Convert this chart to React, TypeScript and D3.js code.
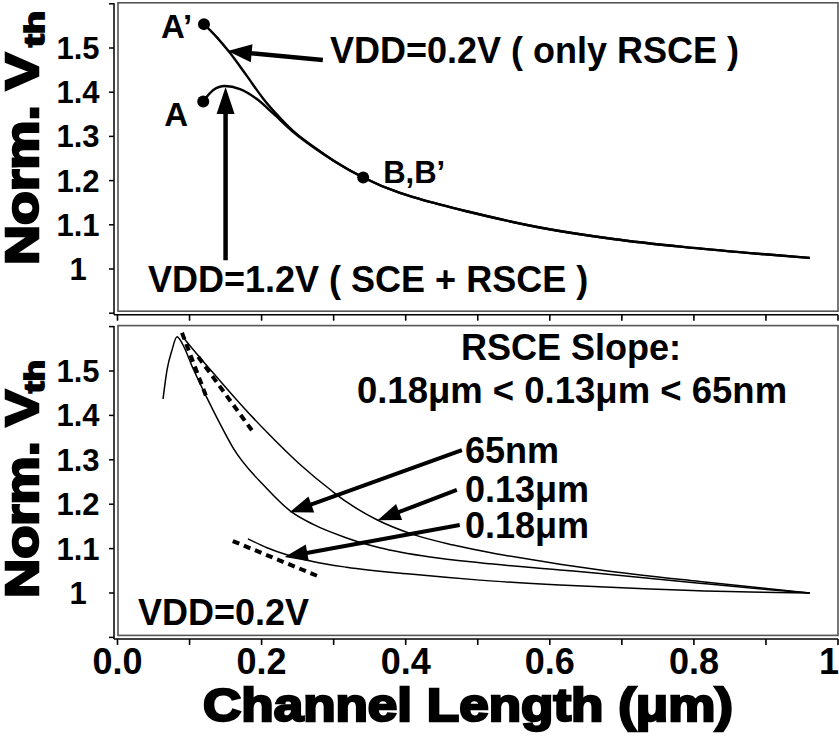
import React from "react";
import * as d3 from "d3";

// Channel length (µm) and normalized Vth for the two supply conditions
const vdd02X = [0.12, 0.138, 0.156, 0.179, 0.202, 0.221, 0.244, 0.276, 0.3, 0.341, 0.392, 0.42, 0.486, 0.586, 0.688, 0.785, 0.878, 0.961];
const vdd02Y = [1.554, 1.524, 1.489, 1.438, 1.386, 1.35, 1.312, 1.272, 1.245, 1.207, 1.172, 1.158, 1.13, 1.094, 1.068, 1.05, 1.036, 1.025];
const vdd12X = [0.119, 0.133, 0.149, 0.17, 0.193, 0.216, 0.244, 0.276, 0.3, 0.341, 0.392, 0.42, 0.486, 0.586, 0.688, 0.785, 0.878, 0.961];
const vdd12Y = [1.379, 1.405, 1.414, 1.407, 1.385, 1.352, 1.31, 1.271, 1.245, 1.207, 1.172, 1.158, 1.13, 1.094, 1.068, 1.05, 1.036, 1.025];

// Marked points: A', A, B/B'
const markNames = ["A\u2019", "A", "B,B\u2019"];
const markX = [0.12, 0.119, 0.341];
const markY = [1.554, 1.379, 1.207];

// Technology nodes at VDD=0.2V
const n65X = [0.0632, 0.0687, 0.0756, 0.0826, 0.0895, 0.105, 0.124, 0.142, 0.16, 0.2075, 0.242, 0.271, 0.318, 0.364, 0.434, 0.503, 0.614, 0.67, 0.808, 0.901, 0.961];
const n65Y = [1.437, 1.502, 1.547, 1.577, 1.563, 1.505, 1.44, 1.382, 1.328, 1.235, 1.182, 1.155, 1.124, 1.102, 1.081, 1.068, 1.052, 1.044, 1.022, 1.008, 1.0];
const n130X = [0.09, 0.1145, 0.138, 0.16, 0.188, 0.2075, 0.253, 0.299, 0.318, 0.36, 0.41, 0.466, 0.527, 0.614, 0.67, 0.808, 0.901, 0.961];
const n130Y = [1.578, 1.53, 1.486, 1.445, 1.395, 1.362, 1.29, 1.228, 1.205, 1.165, 1.132, 1.108, 1.088, 1.065, 1.052, 1.026, 1.01, 1.0];
const n180X = [0.181, 0.2075, 0.235, 0.271, 0.318, 0.41, 0.503, 0.614, 0.739, 0.878, 0.961];
const n180Y = [1.122, 1.102, 1.086, 1.071, 1.058, 1.042, 1.029, 1.018, 1.009, 1.002, 1.0];

// Slope guide segments [x1, y1, x2, y2]
const slope65 = [0.0895, 1.586, 0.124, 1.439];
const slope130 = [0.112, 1.532, 0.188, 1.363];
const slope180 = [0.16, 1.117, 0.281, 1.036];

const xTicks = [0, 0.1, 0.2, 0.3, 0.4, 0.5, 0.6, 0.7, 0.8, 0.9, 1.0];
const xTickLabels = ["0.0", "", "0.2", "", "0.4", "", "0.6", "", "0.8", "", "1"];
const yTicks = [0.9, 1.0, 1.1, 1.2, 1.3, 1.4, 1.5, 1.6];
const yTickLabels = ["", "1", "1.1", "1.2", "1.3", "1.4", "1.5", ""];

const W = 839;
const H = 736;
const FONT = "'Liberation Sans', Arial, sans-serif";

const x = d3.scaleLinear().domain([0, 1]).range([117.5, 838]);
const yTop = d3.scaleLinear().domain([0.9, 1.6]).range([313.2, 3.8]);
const yBot = d3.scaleLinear().domain([0.9, 1.6]).range([637.4, 326.6]);

function zip(xs: number[], ys: number[]): [number, number][] {
  return xs.map((v, i) => [v, ys[i]]);
}

function Arrow({ x1, y1, x2, y2, head = 24, half = 9, width = 4.5 }: { x1: number; y1: number; x2: number; y2: number; head?: number; half?: number; width?: number }) {
  const dx = x2 - x1;
  const dy = y2 - y1;
  const len = Math.hypot(dx, dy);
  const ux = dx / len;
  const uy = dy / len;
  const bx = x2 - ux * head;
  const by = y2 - uy * head;
  const pts = [
    [x2, y2],
    [bx - uy * half, by + ux * half],
    [bx + uy * half, by - ux * half],
  ];
  return (
    <g>
      <line x1={x1} y1={y1} x2={bx + ux * 2} y2={by + uy * 2} stroke="#000" strokeWidth={width} />
      <polygon points={pts.map((p) => p.join(",")).join(" ")} fill="#000" />
    </g>
  );
}

function Panel({ y, top }: { y: d3.ScaleLinear<number, number>; top: boolean }) {
  const [y0, y1] = y.range();
  const axisY = y0 + 1.5;
  return (
    <g>
      <rect x={118} y={y1 - 1} width={720} height={y0 - y1 - 1} fill="#fff" stroke="#555" strokeWidth={1.6} />
      {/* y axis */}
      <line x1={114} x2={114} y1={y1 - 0.5} y2={axisY} stroke="#000" strokeWidth={1.5} />
      {yTicks.map((t, i) => (
        <g key={i}>
          <line x1={109} x2={114} y1={y(t)} y2={y(t)} stroke="#000" strokeWidth={1.5} />
          {yTickLabels[i] && (
            <text x={78} y={y(t) + 11} textAnchor="middle" fontFamily={FONT} fontWeight="bold" fontSize={31}>
              {yTickLabels[i]}
            </text>
          )}
        </g>
      ))}
      {/* x axis */}
      <line x1={114} x2={838} y1={axisY} y2={axisY} stroke="#000" strokeWidth={1.5} />
      {xTicks.map((t, i) => (
        <line key={i} x1={x(t)} x2={x(t)} y1={axisY} y2={axisY + 6} stroke="#000" strokeWidth={1.6} />
      ))}
      {/* y axis title */}
      <text
        transform={`translate(38,${top ? 265 : 598}) rotate(-90)`}
        fontFamily={FONT}
        fontWeight="bold"
        fontSize={47}
        stroke="#000"
        strokeWidth={2.5}
        textLength={top ? 212 : 208}
        lengthAdjust="spacingAndGlyphs"
      >
        Norm. V
      </text>
      <text
        transform={`translate(44,${top ? 47 : 393}) rotate(-90)`}
        fontFamily={FONT}
        fontWeight="bold"
        fontSize={27}
        stroke="#000"
        strokeWidth={1.8}
        textLength={top ? 36 : 33}
        lengthAdjust="spacingAndGlyphs"
      >
        th
      </text>
    </g>
  );
}

export default function App() {
  const lineTop = d3.line<[number, number]>().x((d) => x(d[0])).y((d) => yTop(d[1])).curve(d3.curveMonotoneX);
  const lineBot = d3.line<[number, number]>().x((d) => x(d[0])).y((d) => yBot(d[1])).curve(d3.curveMonotoneX);
  const txt = { fontFamily: FONT, fontWeight: "bold" as const, fontSize: 36 };

  const seg = (s: number[]) => (
    <line x1={x(s[0])} y1={yBot(s[1])} x2={x(s[2])} y2={yBot(s[3])} stroke="#000" strokeWidth={4} strokeDasharray="7 5" />
  );

  return (
    <svg width={W} height={H} style={{ position: "absolute", left: 0, top: 0, background: "#fff" }}>
      <rect width={W} height={H} fill="#fff" />
      <Panel y={yTop} top={true} />
      <Panel y={yBot} top={false} />

      {/* upper panel curves */}
      <path d={lineTop(zip(vdd12X, vdd12Y)) || ""} fill="none" stroke="#000" strokeWidth={2.4} />
      <path d={lineTop(zip(vdd02X, vdd02Y)) || ""} fill="none" stroke="#000" strokeWidth={2.4} />
      {markX.map((v, i) => (
        <circle key={i} cx={x(v)} cy={yTop(markY[i])} r={6} fill="#000" />
      ))}
      <text x={x(markX[0]) - 43} y={yTop(markY[0]) + 14} {...txt} fontSize={33}>{markNames[0]}</text>
      <text x={x(markX[1]) - 39} y={yTop(markY[1]) + 25} {...txt} fontSize={33}>{markNames[1]}</text>
      <text x={x(markX[2]) + 20} y={yTop(markY[2]) + 5} {...txt} fontSize={31}>{markNames[2]}</text>

      <Arrow x1={x(0.285)} y1={yTop(1.473)} x2={x(0.153)} y2={yTop(1.493)} />
      <text x={330} y={63} {...txt}>VDD=0.2V ( only RSCE )</text>
      <Arrow x1={x(0.15)} y1={yTop(1.02)} x2={x(0.15)} y2={yTop(1.412)} head={27} />
      <text x={148} y={292} {...txt}>VDD=1.2V ( SCE + RSCE )</text>

      {/* lower panel curves */}
      <path d={lineBot(zip(n65X, n65Y)) || ""} fill="none" stroke="#000" strokeWidth={1.5} />
      <path d={lineBot(zip(n130X, n130Y)) || ""} fill="none" stroke="#000" strokeWidth={1.5} />
      <path d={lineBot(zip(n180X, n180Y)) || ""} fill="none" stroke="#000" strokeWidth={1.5} />
      {seg(slope65)}
      {seg(slope130)}
      {seg(slope180)}

      <text x={571} y={360} textAnchor="middle" {...txt}>RSCE Slope:</text>
      <text x={572} y={403} textAnchor="middle" {...txt} fontSize={36.5}>0.18μm &lt; 0.13μm &lt; 65nm</text>
      <text x={465} y={463} {...txt}>65nm</text>
      <text x={465} y={502} {...txt}>0.13μm</text>
      <text x={465} y={538} {...txt}>0.18μm</text>
      <Arrow x1={x(0.478)} y1={yBot(1.322)} x2={x(0.239)} y2={yBot(1.182)} head={23} half={8.5} width={4} />
      <Arrow x1={x(0.471)} y1={yBot(1.232)} x2={x(0.361)} y2={yBot(1.164)} head={23} half={8.5} width={4} />
      <Arrow x1={x(0.475)} y1={yBot(1.153)} x2={x(0.232)} y2={yBot(1.081)} head={23} half={8.5} width={4} />
      <text x={138} y={625} {...txt}>VDD=0.2V</text>

      {/* x tick labels */}
      {xTicks.map((t, i) =>
        xTickLabels[i] ? (
          <text
            key={i}
            x={i === xTicks.length - 1 ? x(t) + 1 : x(t)}
            y={674}
            textAnchor={i === xTicks.length - 1 ? "end" : "middle"}
            fontFamily={FONT}
            fontWeight="bold"
            fontSize={36}
          >
            {xTickLabels[i]}
          </text>
        ) : null
      )}
      <text
        x={203}
        y={721}
        fontFamily={FONT}
        fontWeight="bold"
        fontSize={47}
        stroke="#000"
        strokeWidth={2.5}
        textLength={530}
        lengthAdjust="spacingAndGlyphs"
      >
        Channel Length (μm)
      </text>
    </svg>
  );
}
